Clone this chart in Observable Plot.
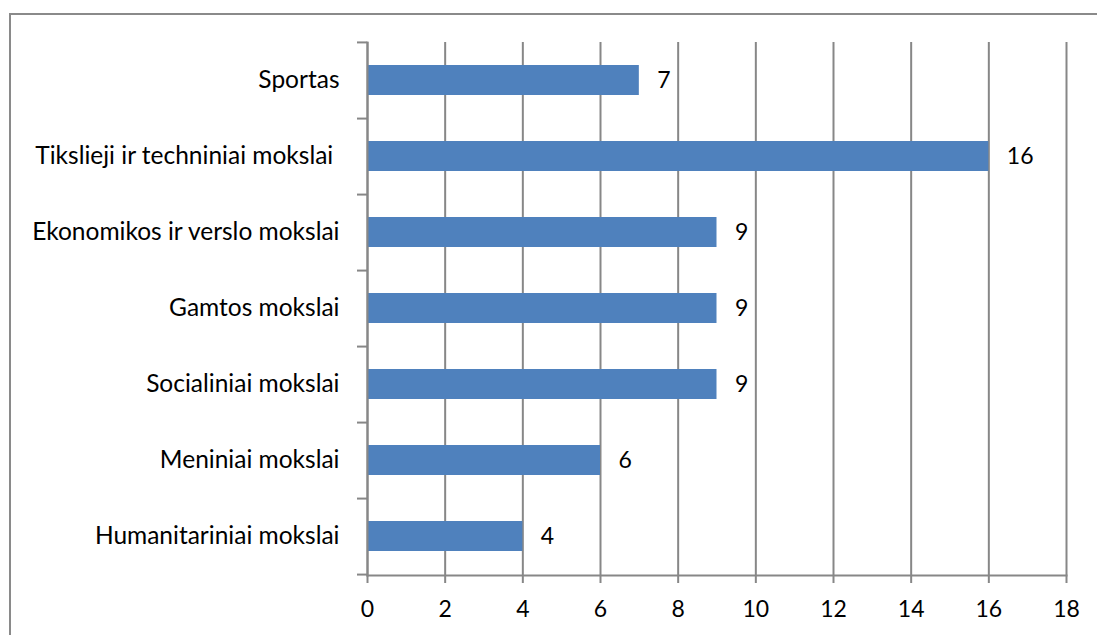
<!DOCTYPE html>
<html>
<head>
<meta charset="utf-8">
<script src="https://cdn.jsdelivr.net/npm/d3@7"></script>
<script src="https://cdn.jsdelivr.net/npm/@observablehq/plot@0.6"></script>
<style>
  html, body { margin: 0; padding: 0; background: #fff; overflow: hidden; }
  #wrap { position: relative; width: 1097px; height: 635px; }
  #frame { position: absolute; left: 9px; top: 13px; width: 2000px; height: 2000px;
           border-top: 2px solid #8a8a8a; border-left: 2px solid #8a8a8a; pointer-events: none; }
  #chart svg text { white-space: pre; }
</style>
</head>
<body>
<div id="wrap"><div id="frame"></div><div id="chart"></div></div>
<script>
const categories = [
  "Sportas",
  "Tikslieji ir techniniai mokslai ",
  "Ekonomikos ir verslo mokslai",
  "Gamtos mokslai",
  "Socialiniai mokslai",
  "Meniniai mokslai",
  "Humanitariniai mokslai"
];
const values = [7, 16, 9, 9, 9, 6, 4];
const xTicks = [0, 2, 4, 6, 8, 10, 12, 14, 16, 18];

const data = categories.map((c, i) => ({category: c, value: values[i]}));

const W = 1097, H = 635;
const mTop = 42, mBottom = 60, mLeft = 367, mRight = 31;
const step = (H - mTop - mBottom) / categories.length;
const gray = "#878787";
const font = "Lato, 'Open Sans', sans-serif";

const chart = Plot.plot({
  width: W,
  height: H,
  marginTop: mTop,
  marginBottom: mBottom,
  marginLeft: mLeft,
  marginRight: mRight,
  style: {fontFamily: font, fontSize: "23px", color: "#000", background: "transparent"},
  x: {domain: [0, 18], ticks: xTicks, label: null},
  y: {domain: categories, paddingInner: 0.6, paddingOuter: 0.3, label: null},
  marks: [
    Plot.gridX(xTicks, {stroke: gray, strokeOpacity: 1, strokeWidth: 2}),
    Plot.barX(data, {y: "category", x: "value", fill: "#4F81BD"}),
    Plot.frame({anchor: "left", stroke: gray, strokeWidth: 2}),
    Plot.frame({anchor: "bottom", stroke: gray, strokeWidth: 2}),
    // category labels
    Plot.axisY({tickSize: 0, tickPadding: 28, fontSize: 24.5, fill: "#000", label: null}),
    // tick marks at band boundaries
    Plot.axisY({tickSize: 10, tickFormat: () => "", dy: step / 2, stroke: gray, strokeWidth: 2, label: null}),
    Plot.axisY({ticks: [categories[0]], tickSize: 10, tickFormat: () => "", dy: -step / 2, stroke: gray, strokeWidth: 2, label: null}),
    Plot.axisX({ticks: xTicks, tickSize: 8, tickPadding: 17, stroke: gray, strokeWidth: 2, fontSize: 23, fill: "#000", label: null}),
    Plot.text(data, {y: "category", x: "value", text: d => String(d.value), textAnchor: "start", dx: 18, fontSize: 23, fill: "#000"})
  ]
});
document.getElementById("chart").appendChild(chart);
</script>
</body>
</html>
